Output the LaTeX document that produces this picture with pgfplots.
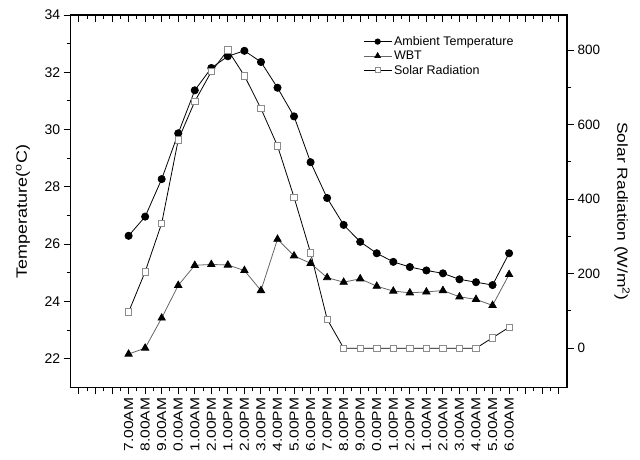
\documentclass[border=0pt]{standalone}
\usepackage{fontspec}
\setmainfont{Liberation Sans}
\newfontfamily\vfont[FakeStretch=1.2]{Liberation Sans}
\usepackage{pgfplots}
\usepackage{pgfplotstable}
\pgfplotsset{compat=1.18}

\pgfplotstableread{
x amb wbt sol
0 26.29 22.16 97
1 26.96 22.37 205
2 28.27 23.42 335
3 29.87 24.56 559
4 31.37 25.26 662
5 32.15 25.29 742
6 32.56 25.27 800
7 32.75 25.08 731
8 32.36 24.38 643
9 31.46 26.17 543
10 30.46 25.59 405
11 28.86 25.33 256
12 27.61 24.83 78
13 26.67 24.67 0
14 26.08 24.79 0
15 25.68 24.53 0
16 25.38 24.36 0
17 25.20 24.30 0
18 25.08 24.33 0
19 24.98 24.38 0
20 24.77 24.16 0
21 24.67 24.07 0
22 24.57 23.86 28
23 25.68 24.94 56
}\data

\begin{document}
\begin{tikzpicture}
\useasboundingbox (-70.7pt,-71.7pt) rectangle (569.3pt,387.3pt);
\pgfplotsset{
  common/.style={
    scale only axis, width=496.3pt, height=372.3pt,
    at={(0pt,0pt)}, anchor=south west,
    xmin=-3.5, xmax=26.5,
    xtick={-3,...,26},
    minor x tick num=1,
    major tick length=7pt, minor tick length=4pt,
    axis line style={line width=1.3pt},
    every tick/.style={black, line width=1pt},
    /pgf/number format/assume math mode=true,
  },
  amb/.style={black, line width=0.8pt, mark=*, mark size=3.6pt, mark options={fill=black}},
  wbt/.style={black!60, line width=0.8pt, mark=triangle*, mark size=4.2pt, mark options={fill=black, draw=black}},
  sol/.style={black, line width=0.8pt, mark=square*, mark size=3.2pt, mark options={fill=white, draw=black!45, line width=0.8pt}},
}
\begin{axis}[common, ymin=21, ymax=34, ytick={22,24,...,34}, minor y tick num=1,
  xtick pos=left, ytick pos=left, tick align=outside,
  xticklabels={,,,7.00AM,8.00AM,9.00AM,0.00AM,1.00AM,2.00PM,1.00PM,2.00PM,3.00PM,4.00PM,5.00PM,6.00PM,7.00PM,8.00PM,9.00PM,0.00PM,1.00PM,2.00PM,1.00AM,2.00AM,3.00AM,4.00AM,5.00AM,6.00AM,,,},
  xticklabel style={rotate=90, anchor=east, font=\vfont\fontsize{13}{15}\selectfont},
  yticklabel style={font=\fontsize{14}{16}\selectfont},
  ylabel={Temperature(\textsuperscript{o}C)},
  ylabel style={at={(axis description cs:-0.096,0.472)}, anchor=center, font=\vfont\fontsize{15}{17}\selectfont},
]
\addplot[amb] table[x=x,y=amb]{\data};
\addplot[wbt] table[x=x,y=wbt]{\data};
\end{axis}
\begin{axis}[common, ymin=-105, ymax=894, ytick={0,200,...,800}, minor y tick num=1,
  xtick pos=right, ytick pos=right, xtick align=inside, ytick align=outside,
  xticklabels={},
  yticklabel style={font=\fontsize{13.5}{16}\selectfont},
  ylabel={Solar Radiation (W/m\textsuperscript{2})},
  ylabel style={at={(axis description cs:1.111,0.472)}, anchor=center, rotate=180, font=\vfont\fontsize{14.5}{17}\selectfont},
  legend style={at={(axis description cs:0.583,0.954)}, anchor=north west, draw=none, fill=none,
    font=\fontsize{12.5}{14}\selectfont, row sep=0pt},
  legend cell align=left,
  legend image code/.code={\draw[mark repeat=2,mark phase=2, every mark/.append style={scale=0.75}] plot coordinates {(0pt,0pt) (14pt,0pt) (28pt,0pt)};},
]
\addlegendimage{amb}
\addlegendentry{Ambient Temperature}
\addlegendimage{wbt}
\addlegendentry{WBT}
\addplot[sol] table[x=x,y=sol]{\data};
\addlegendentry{Solar Radiation}
\end{axis}
\end{tikzpicture}
\end{document}
